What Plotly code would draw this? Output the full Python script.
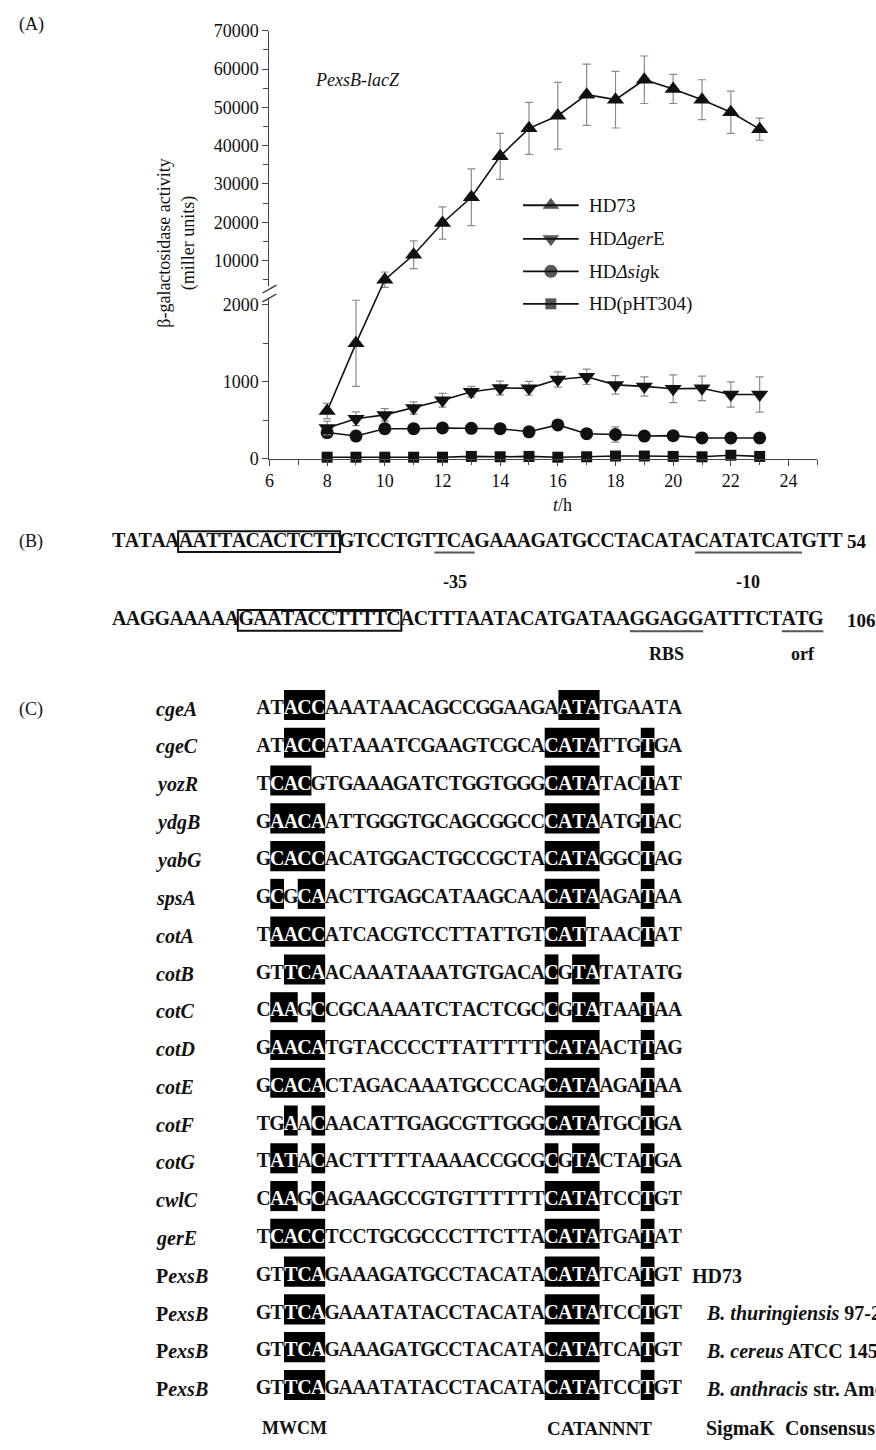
import numpy as np
import plotly.graph_objects as go

W, H = 876, 1450
FONT = "Liberation Serif"
INK = "#111111"

# ---------------- Panel A data ----------------
hours = [8, 9, 10, 11, 12, 13, 14, 15, 16, 17, 18, 19, 20, 21, 22, 23]
hd73 = [620, 1500, 5000, 11500, 19800, 26500, 37200, 44500, 47800, 53300,
        52000, 57200, 54800, 52000, 48700, 44300]
hd73_err = [100, 560, 2000, 3600, 4200, 7400, 6000, 6800, 8700, 8000,
            7400, 6200, 3800, 5200, 5500, 2900]
gere = [400, 520, 570, 660, 760, 870, 920, 915, 1030, 1065,
        960, 940, 910, 915, 835, 835]
gere_err = [90, 90, 80, 80, 90, 70, 90, 90, 100, 100,
            120, 125, 180, 160, 165, 230]
sigk = [340, 295, 390, 390, 400, 395, 390, 350, 440, 325,
        315, 295, 300, 270, 270, 270]
sigk_err = [50, 40, 40, 40, 40, 40, 60, 40, 40, 40,
            100, 40, 40, 30, 30, 30]
pht = [20, 20, 20, 20, 20, 30, 25, 30, 20, 25, 35, 35, 30, 25, 45, 30]
pht_err = [10, 10, 10, 10, 10, 10, 10, 10, 10, 10, 10, 10, 10, 10, 15, 10]
series_names = ["HD73", "HD<i>Δger</i>E", "HD<i>Δsig</i>k", "HD(pHT304)"]
x_ticks = [6, 8, 10, 12, 14, 16, 18, 20, 22, 24]
y_ticks_low = [0, 1000, 2000]
y_ticks_high = [10000, 20000, 30000, 40000, 50000, 60000, 70000]
y_minor = [500, 1500, 5000, 15000, 25000, 35000, 45000, 55000, 65000]

# ---------------- Panel B data ----------------
b_rows = ["TATAAAATTACACTCTTGTCCTGTTCAGAAAGATGCCTACATACATATCATGTT",
          "AAGGAAAAAGAATACCTTTTCACTTTAATACATGATAAGGAGGATTTCTATG"]
b_row_numbers = ["54", "106"]
b_boxes = [(0, 6, 17), (1, 10, 21)]
b_marks = [(0, 25, 27, "-35"), (0, 44, 51, "-10"), (1, 39, 43, "RBS"), (1, 50, 52, "orf")]

# ---------------- Panel C data ----------------
c_names = ["<i>cgeA</i>", "<i>cgeC</i>", "<i>yozR</i>", "<i>ydgB</i>", "<i>yabG</i>",
           "<i>spsA</i>", "<i>cotA</i>", "<i>cotB</i>", "<i>cotC</i>", "<i>cotD</i>",
           "<i>cotE</i>", "<i>cotF</i>", "<i>cotG</i>", "<i>cwlC</i>", "<i>gerE</i>",
           "P<i>exsB</i>", "P<i>exsB</i>", "P<i>exsB</i>", "P<i>exsB</i>"]
c_seqs = ["ATACCAAATAACAGCCGGAAGAATATGAATA",
          "ATACCATAAATCGAAGTCGCACATATTGTGA",
          "TCACGTGAAAGATCTGGTGGGCATATACTAT",
          "GAACAATTGGGTGCAGCGGCCCATAATGTAC",
          "GCACCACATGGACTGCCGCTACATAGGCTAG",
          "GCGCAACTTGAGCATAAGCAACATAAGATAA",
          "TAACCATCACGTCCTTATTGTCATTAACTAT",
          "GTTCAACAAATAAATGTGACACGTATATATG",
          "CAAGCCGCAAAATCTACTCGCCGTATAATAA",
          "GAACATGTACCCCTTATTTTTCATAACTTAG",
          "GCACACTAGACAAATGCCCAGCATAAGATAA",
          "TGAACAACATTGAGCGTTGGGCATATGCTGA",
          "TATACACTTTTTAAAACCGCGCGTACTATGA",
          "CAAGCAGAAGCCGTGTTTTTTCATATCCTGT",
          "TCACCTCCTGCGCCCTTCTTACATATGATAT",
          "GTTCAGAAAGATGCCTACATACATATCATGT",
          "GTTCAGAAATATACCTACATACATATCCTGT",
          "GTTCAGAAAGATGCCTACATACATATCATGT",
          "GTTCAGAAATATACCTACATACATATCCTGT"]
c_highlights = [[3, 4, 5, 23, 24, 25],
                [3, 4, 5, 22, 23, 24, 25, 29],
                [2, 3, 4, 22, 23, 24, 25, 29],
                [2, 3, 4, 5, 22, 23, 24, 25, 29],
                [2, 3, 4, 5, 22, 23, 24, 25, 29],
                [2, 4, 5, 22, 23, 24, 25, 29],
                [2, 3, 4, 5, 22, 23, 24, 29],
                [3, 4, 5, 22, 24, 25],
                [2, 3, 5, 22, 24, 25, 29],
                [2, 3, 4, 5, 22, 23, 24, 25, 29],
                [2, 3, 4, 5, 22, 23, 24, 25, 29],
                [3, 5, 22, 23, 24, 25, 29],
                [2, 3, 5, 22, 24, 25, 29],
                [2, 3, 5, 22, 23, 24, 25, 29],
                [2, 3, 4, 5, 22, 23, 24, 25, 29],
                [3, 4, 5, 22, 23, 24, 25, 29],
                [3, 4, 5, 22, 23, 24, 25, 29],
                [3, 4, 5, 22, 23, 24, 25, 29],
                [3, 4, 5, 22, 23, 24, 25, 29]]
c_strains = {15: ("", "HD73"), 16: ("B. thuringiensis", " 97-27"),
             17: ("B. cereus", " ATCC 14579"), 18: ("B. anthracis", " str. Ames")}
c_consensus = ["MWCM", "CATANNNT", "SigmaK\u00a0\u00a0Consensus"]


def px(x):
    return x / W


def py(y):
    return 1 - y / H


# ---------------- broken-axis scale for panel A ----------------
A_LEFT, A_RIGHT = 266, 817          # pixel of t=6 and t=25
A_BOTTOM, A_TOP = 455, 21           # pixel of 0 and 70000
low_scale = (455 - 299) / 2000.0    # px per unit in lower part
high_scale = (254 - 21) / 60000.0   # px per unit in upper part
v10k = (455 - 254) / low_scale
B_ = high_scale / low_scale
A_ = v10k - B_ * 10000


def to_axis(y):
    y = np.asarray(y, dtype=float)
    return np.minimum(y, A_ + B_ * y)


v_top = float(to_axis(70000))

fig = go.Figure()

series = [
    (pht, pht_err, "square", 11),
    (sigk, sigk_err, "circle", 13),
    (gere, gere_err, "triangle-down", 15),
    (hd73, hd73_err, "triangle-up", 15),
]
for vals, errs, sym, size in series:
    v = to_axis(vals)
    up = to_axis(np.add(vals, errs)) - v
    dn = v - to_axis(np.subtract(vals, errs))
    fig.add_trace(go.Scatter(
        x=hours, y=v, mode="lines+markers",
        line=dict(color=INK, width=1.6),
        marker=dict(symbol=sym, size=size, color=INK),
        error_y=dict(type="data", symmetric=False, array=up, arrayminus=dn,
                     color="#8a8a8a", thickness=1.2, width=4),
        showlegend=False, hoverinfo="skip", cliponaxis=False,
        xaxis="x", yaxis="y"))

# legend (custom)
leg_rows = [198, 232, 265, 298]
leg_syms = [("triangle-up", 16), ("triangle-down", 16), ("circle", 14), ("square", 12)]
shapes = []
annotations = []
for yrow, name, (sym, size) in zip(leg_rows, series_names, leg_syms):
    shapes.append(dict(type="line", xref="paper", yref="paper",
                       x0=px(521), x1=px(577), y0=py(yrow), y1=py(yrow),
                       line=dict(color=INK, width=1.8)))
    annotations.append(dict(text=name, x=px(585), y=py(yrow), xref="paper", yref="paper",
                            xanchor="left", yanchor="middle", showarrow=False,
                            font=dict(family=FONT, size=19, color=INK)))
fig.add_trace(go.Scatter(
    x=[549] * 4, y=leg_rows, mode="markers",
    marker=dict(symbol=[s for s, _ in leg_syms], size=[z for _, z in leg_syms], color=INK),
    xaxis="x3", yaxis="y3", hoverinfo="skip", showlegend=False))

# axis break: mask and slashes
shapes.append(dict(type="rect", xref="paper", yref="paper", layer="above",
                   x0=px(259), x1=px(272), y0=py(280), y1=py(292),
                   fillcolor="white", line=dict(width=0)))
for dy in (0, 9):
    shapes.append(dict(type="line", xref="paper", yref="paper", layer="above",
                       x0=px(259), y0=py(287 + dy), x1=px(273), y1=py(279 + dy),
                       line=dict(color="#333", width=1.3)))

annotations += [
    dict(text="(A)", x=px(12), y=py(15), xanchor="left", yanchor="middle"),
    dict(text="<i>PexsB-lacZ</i>", x=px(310), y=py(71), xanchor="left", yanchor="middle"),
    dict(text="β-galactosidase activity<br>(miller units)", x=px(172), y=py(236),
         xanchor="center", yanchor="middle", textangle=-90),
    dict(text="<i>t</i>/h", x=px(561), y=py(502), xanchor="center", yanchor="middle"),
    dict(text="(B)", x=px(12), y=py(539), xanchor="left", yanchor="middle"),
    dict(text="(C)", x=px(12), y=py(709), xanchor="left", yanchor="middle"),
]
for a in annotations[-6:]:
    a.update(xref="paper", yref="paper", showarrow=False,
             font=dict(family=FONT, size=18, color=INK))

# ---------------- Panel B ----------------
TB = {"A": 722, "C": 722, "G": 778, "T": 667}
b_row_y = [539, 619]
b_spans = [(108, 842), (108, 823)]
b_label_y = [580, 653]
bx, by, bt = [], [], []
b_edges = []
for r, seq in enumerate(b_rows):
    w = np.array([TB[c] for c in seq], dtype=float)
    x0, x1 = b_spans[r]
    edges = x0 + np.concatenate([[0.0], np.cumsum(w)]) * (x1 - x0) / w.sum()
    b_edges.append(edges)
    for j, ch in enumerate(seq):
        bx.append((edges[j] + edges[j + 1]) / 2)
        by.append(b_row_y[r])
        bt.append(ch)
fig.add_trace(go.Scatter(
    x=bx, y=by, text=bt, mode="text", textposition="middle center",
    textfont=dict(family=FONT, size=20, color=INK, weight="bold"),
    xaxis="x3", yaxis="y3", hoverinfo="skip", showlegend=False))
for r, num in enumerate(b_row_numbers):
    annotations.append(dict(text="<b>%s</b>" % num, x=px(845), y=py(b_row_y[r]),
                            xref="paper", yref="paper", xanchor="left", yanchor="middle",
                            showarrow=False, font=dict(family=FONT, size=19, color=INK)))
for r, a, b in b_boxes:
    e = b_edges[r]
    shapes.append(dict(type="rect", xref="x3", yref="y3",
                       x0=e[a - 1] - 1, x1=e[b] + 1,
                       y0=b_row_y[r] - 10.5, y1=b_row_y[r] + 10.5,
                       line=dict(color=INK, width=2)))
for r, a, b, lab in b_marks:
    e = b_edges[r]
    shapes.append(dict(type="line", xref="x3", yref="y3",
                       x0=e[a - 1], x1=e[b], y0=b_row_y[r] + 11, y1=b_row_y[r] + 11,
                       line=dict(color="#555", width=2)))
    annotations.append(dict(text="<b>%s</b>" % lab, x=px((e[a - 1] + e[b]) / 2),
                            y=py(b_label_y[r]), xref="paper", yref="paper",
                            xanchor="center", yanchor="middle", showarrow=False,
                            font=dict(family=FONT, size=18, color=INK)))

# ---------------- Panel C ----------------
C_COL0, C_COLW = 253, 13.8
C_ROW0, C_ROWDY = 709, 38.3
cx, cy, ct, cc = [], [], [], []
for i, (seq, hl) in enumerate(zip(c_seqs, c_highlights)):
    yc = C_ROW0 + i * C_ROWDY
    for j, ch in enumerate(seq, start=1):
        cx.append(C_COL0 + (j - 0.5) * C_COLW)
        cy.append(yc)
        ct.append(ch)
        cc.append("white" if j in hl else INK)
    runs = []
    for j in sorted(hl):
        if runs and j == runs[-1][1] + 1:
            runs[-1][1] = j
        else:
            runs.append([j, j])
    for a, b in runs:
        shapes.append(dict(type="rect", xref="x3", yref="y3", layer="below",
                           x0=C_COL0 + (a - 1) * C_COLW, x1=C_COL0 + b * C_COLW,
                           y0=yc - 19.5, y1=yc + 11,
                           fillcolor="black", line=dict(width=0)))
    annotations.append(dict(text="<b>%s</b>" % c_names[i], x=px(150), y=py(yc),
                            xref="paper", yref="paper", xanchor="left", yanchor="middle",
                            showarrow=False, font=dict(family=FONT, size=20, color=INK)))
    if i in c_strains:
        it, rest = c_strains[i]
        txt = ("<i>%s</i>%s" % (it, rest)) if it else rest.strip()
        annotations.append(dict(text="<b>%s</b>" % txt, x=px(689 if not it else 703), y=py(yc),
                                xref="paper", yref="paper", xanchor="left", yanchor="middle",
                                showarrow=False, font=dict(family=FONT, size=20, color=INK)))
fig.add_trace(go.Scatter(
    x=cx, y=cy, text=ct, mode="text", textposition="middle center",
    textfont=dict(family=FONT, size=20, color=cc, weight="bold"),
    xaxis="x3", yaxis="y3", hoverinfo="skip", showlegend=False))

cons_y = 1438
cons_pos = [(291, "center", 18), (598, "center", 19), (703, "left", 20)]
for txt, (x, anc, fs) in zip(c_consensus, cons_pos):
    annotations.append(dict(text="<b>%s</b>" % txt, x=px(x), y=py(cons_y),
                            xref="paper", yref="paper", xanchor=anc, yanchor="middle",
                            showarrow=False, font=dict(family=FONT, size=fs, color=INK)))

axis_col = "#444"
fig.update_layout(
    width=W, height=H, margin=dict(l=0, r=0, t=0, b=0, pad=0),
    paper_bgcolor="white", plot_bgcolor="rgba(0,0,0,0)", showlegend=False,
    font=dict(family=FONT, color=INK),
    xaxis=dict(domain=[px(A_LEFT), px(A_RIGHT)], range=[6, 25], anchor="y",
               tickmode="array", tickvals=x_ticks, ticks="outside", ticklen=6,
               tickwidth=1.2, tickcolor=axis_col, showline=True, linecolor=axis_col,
               linewidth=1.3, showgrid=False, zeroline=False,
               tickfont=dict(family=FONT, size=18, color=INK),
               minor=dict(tickvals=list(range(7, 26, 2)), ticks="outside", ticklen=5,
                          tickcolor=axis_col, tickwidth=1.2),
               fixedrange=True),
    yaxis=dict(domain=[py(A_BOTTOM), py(A_TOP)], range=[0, v_top], anchor="x",
               tickmode="array", tickvals=list(to_axis(y_ticks_low + y_ticks_high)),
               ticktext=[str(t) for t in y_ticks_low + y_ticks_high],
               ticks="outside", ticklen=6, tickwidth=1.2, tickcolor=axis_col,
               showline=True, linecolor=axis_col, linewidth=1.3, showgrid=False,
               zeroline=False, tickfont=dict(family=FONT, size=18, color=INK),
               minor=dict(tickvals=list(to_axis(y_minor)), ticks="outside", ticklen=5,
                          tickcolor=axis_col, tickwidth=1.2),
               fixedrange=True),
    xaxis3=dict(domain=[0, 1], range=[0, W], anchor="y3", visible=False, fixedrange=True),
    yaxis3=dict(domain=[0, 1], range=[H, 0], anchor="x3", visible=False, fixedrange=True),
    shapes=shapes, annotations=annotations,
)

fig.write_html(
    "out.html",
    config={"displayModeBar": False},
    post_script=("document.body.style.margin='0';"
                 "document.body.style.overflow='hidden';"
                 "document.documentElement.style.overflow='hidden';"),
)
